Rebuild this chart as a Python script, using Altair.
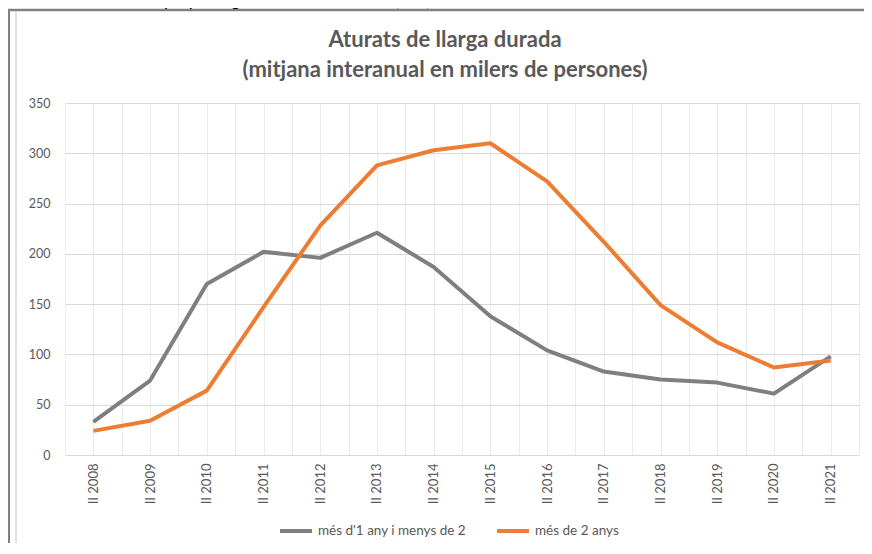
import json
import altair as alt
import pandas as pd

# ---- data ----
periods = ["II 2008", "II 2009", "II 2010", "II 2011", "II 2012", "II 2013", "II 2014",
           "II 2015", "II 2016", "II 2017", "II 2018", "II 2019", "II 2020", "II 2021"]
series_names = ["més d'1 any i menys de 2", "més de 2 anys"]
values_1_2 = [33, 74, 170, 202, 196, 221, 187, 138, 104, 83, 75, 72, 61, 98]
values_2plus = [24, 34, 64, 147, 228, 288, 303, 310, 272, 212, 149, 112, 87, 94]
series_colors = ["#7f7f7f", "#ed7d31"]
y_ticks = [0, 50, 100, 150, 200, 250, 300, 350]
title_lines = ["Aturats de llarga durada", "(mitjana interanual en milers de persones)"]
source_text = "Font: Elaboració pròpia segons microdades EPA (INE)"

rows = []
for name, vals in zip(series_names, [values_1_2, values_2plus]):
    for i, (p, v) in enumerate(zip(periods, vals)):
        rows.append({"idx": i, "period": p, "serie": name, "value": v})
df = pd.DataFrame(rows)

n = len(periods)
grid_vals = [k / 2 - 0.5 for k in range(2 * n + 1)]
label_expr = ("datum.value % 1 == 0 ? " + json.dumps(periods, ensure_ascii=False)
              + "[datum.value] : ''")

FONT = "Lato"
TXT = "#595959"

lines = alt.Chart(df).mark_line(strokeWidth=4, strokeJoin="round").encode(
    x=alt.X("idx:Q",
            scale=alt.Scale(domain=[-0.5, n - 0.5], nice=False, zero=False),
            axis=alt.Axis(values=grid_vals, labelExpr=label_expr, labelAngle=270,
                          labelAlign="right", labelBaseline="middle", ticks=False,
                          domain=False, gridColor="#ececec", labelPadding=8,
                          labelFontSize=13, labelColor=TXT, labelFont=FONT,
                          labelOverlap=False, title=None)),
    y=alt.Y("value:Q",
            scale=alt.Scale(domain=[0, 350], nice=False),
            axis=alt.Axis(values=y_ticks, gridColor="#d9d9d9", domain=False,
                          ticks=False, labelPadding=15, labelFontSize=12.5,
                          labelColor=TXT, labelFont=FONT, title=None)),
    color=alt.Color("serie:N",
                    scale=alt.Scale(domain=series_names, range=series_colors),
                    legend=alt.Legend(orient="none", legendX=213, legendY=410,
                                      direction="horizontal", title=None,
                                      symbolType="stroke", symbolSize=1024,
                                      symbolStrokeWidth=4, labelFontSize=13.5,
                                      labelColor=TXT, labelFont=FONT,
                                      columnPadding=22, labelOffset=4, padding=0)),
    order="idx:Q",
)

one = pd.DataFrame({"k": [0]})
frame_dark_v = alt.Chart(one).mark_rule(color="#808080", strokeWidth=2).encode(
    x=alt.value(-56), y=alt.value(-94), y2=alt.value(450))
frame_dark_h = alt.Chart(one).mark_rule(color="#808080", strokeWidth=2.5).encode(
    x=alt.value(-57), x2=alt.value(820), y=alt.value(-93))
frame_light_v = alt.Chart(one).mark_rule(color="#d9d9d9", strokeWidth=1.5).encode(
    x=alt.value(-49), y=alt.value(-92), y2=alt.value(450))
source = alt.Chart(one).mark_text(align="left", baseline="alphabetic", fontSize=18,
                                  fontStyle="italic", font=FONT, color="#000000").encode(
    x=alt.value(-25), y=alt.value(-97), text=alt.value(source_text))

title_style = dict(align="center", baseline="alphabetic", fontSize=22, font=FONT,
                   fontWeight="bold", color=TXT)
title1 = alt.Chart(one).mark_text(**title_style).encode(
    x=alt.value(380), y=alt.value(-56), text=alt.value(title_lines[0]))
title2 = alt.Chart(one).mark_text(**title_style).encode(
    x=alt.value(380), y=alt.value(-26), text=alt.value(title_lines[1]))

chart = alt.layer(frame_dark_v, frame_dark_h, frame_light_v, source, title1, title2,
                  lines).properties(
    width=794, height=352,
    autosize=alt.AutoSizeParams(type="none"),
    padding={"left": 57, "top": 95, "right": 5, "bottom": 88},
    background="white",
).configure_view(stroke=None)

chart.save("out.html", embed_options={"renderer": "svg", "actions": False})
